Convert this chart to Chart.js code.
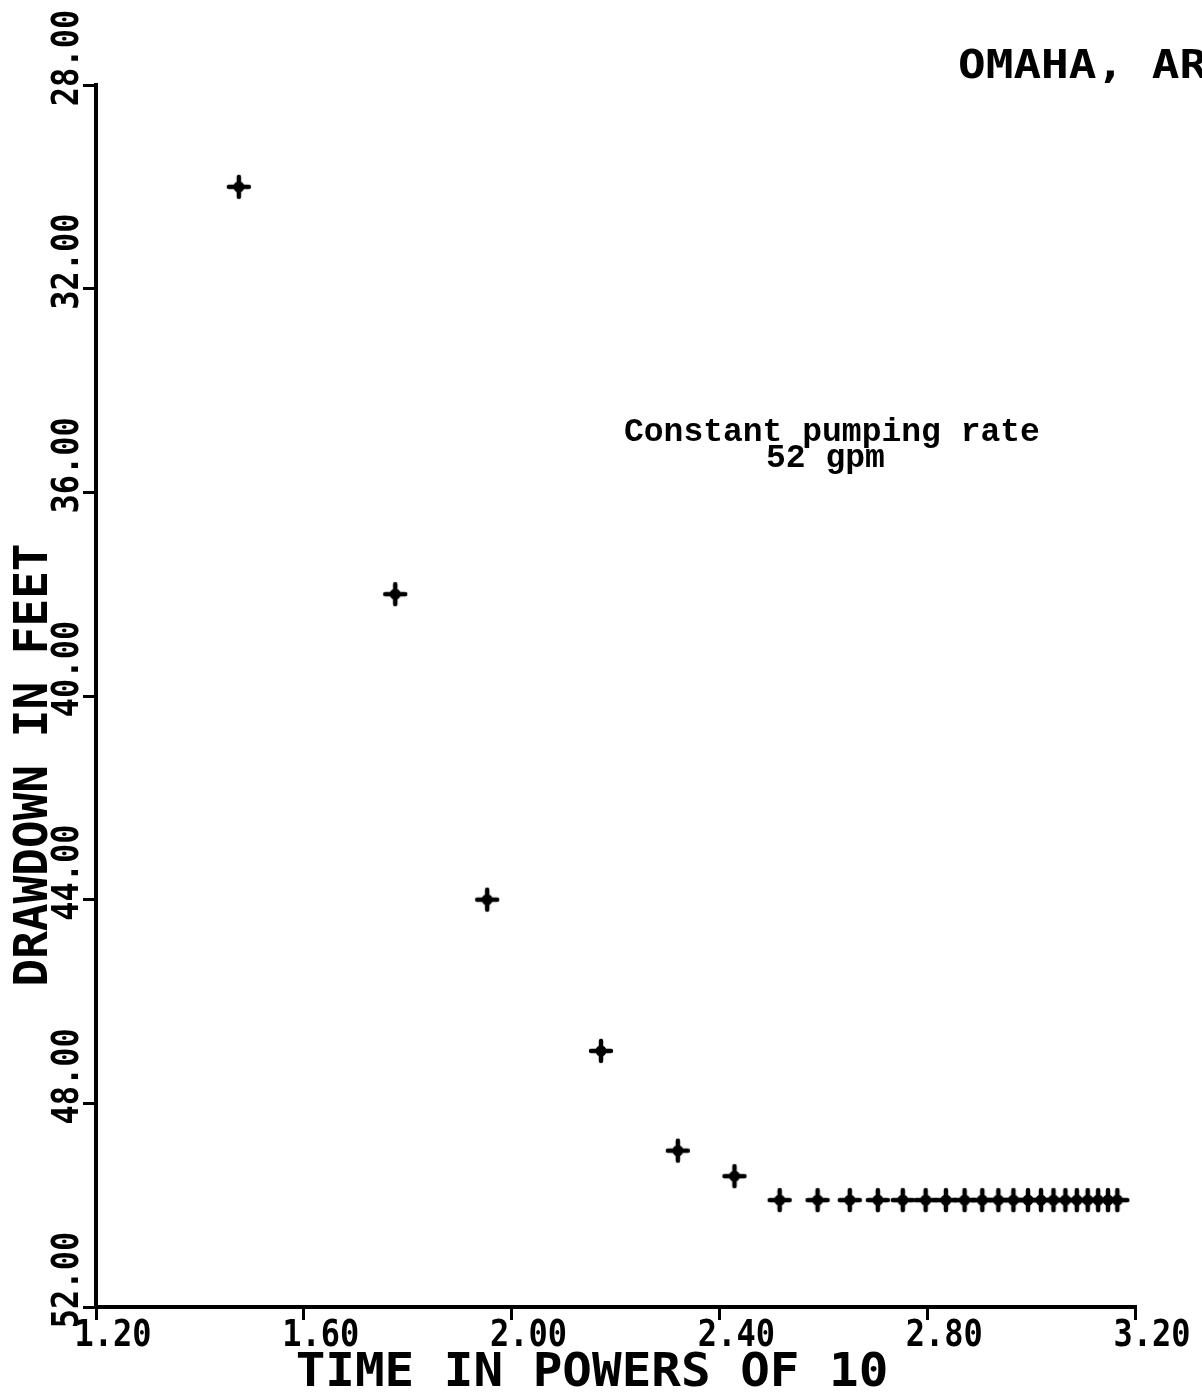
<!DOCTYPE html>
<html>
<head>
<meta charset="utf-8">
<script src="https://cdn.jsdelivr.net/npm/chart.js@4.4.1/dist/chart.umd.min.js"></script>
<style>
  html, body { margin: 0; padding: 0; background: #fff; }
  #chart { display: block; }
</style>
</head>
<body>
<canvas id="chart" width="1202" height="1395"></canvas>
<script>
// log10 of time (minutes) and drawdown (feet)
const logTime = [1.475, 1.776, 1.953, 2.172, 2.320, 2.429,
  2.516, 2.589, 2.651, 2.705, 2.753, 2.797, 2.836, 2.872, 2.906, 2.937,
  2.966, 2.994, 3.019, 3.043, 3.066, 3.088, 3.109, 3.129, 3.148, 3.166];
const drawdown = [30.0, 38.0, 44.0, 46.97, 48.93, 49.43,
  49.9, 49.9, 49.9, 49.9, 49.9, 49.9, 49.9, 49.9, 49.9, 49.9,
  49.9, 49.9, 49.9, 49.9, 49.9, 49.9, 49.9, 49.9, 49.9, 49.9];
const xTicks = [1.2, 1.6, 2.0, 2.4, 2.8, 3.2];
const yTicks = [28, 32, 36, 40, 44, 48, 52];

const PLOT_FONT = '"DejaVu Sans Mono", monospace';
const TYPE_FONT = '"Liberation Mono", monospace';

// thick plotter-style "+" marker
function plusMark() {
  const s = 28, c = s / 2;
  const cv = document.createElement("canvas");
  cv.width = s; cv.height = s;
  const g = cv.getContext("2d");
  g.strokeStyle = "#000";
  g.fillStyle = "#000";
  g.lineWidth = 4.5;
  g.lineCap = "round";
  g.beginPath();
  g.moveTo(c - 10, c); g.lineTo(c + 10, c);
  g.moveTo(c, c - 10); g.lineTo(c, c + 10);
  g.stroke();
  g.beginPath();
  g.arc(c, c, 5.5, 0, Math.PI * 2);
  g.fill();
  return cv;
}

function drawText(ctx, str, x, y, o) {
  ctx.save();
  ctx.translate(x, y);
  if (o.rot) ctx.rotate(o.rot);
  ctx.scale(o.sx || 1, o.sy || 1);
  ctx.font = (o.weight || "normal") + " " + o.size + "px " + (o.family || PLOT_FONT);
  ctx.fillStyle = "#000";
  ctx.textAlign = o.align || "center";
  ctx.textBaseline = "alphabetic";
  ctx.fillText(str, 0, 0);
  ctx.restore();
}

const labelsPlugin = {
  id: "plotLabels",
  afterDraw(chart) {
    const { ctx } = chart;
    const x = chart.scales.x;
    const y = chart.scales.y;

    xTicks.forEach((v) => {
      drawText(ctx, v.toFixed(2), x.getPixelForValue(v) + 17, 1346,
        { size: 32, sy: 1.15, weight: "bold" });
    });
    yTicks.forEach((v) => {
      drawText(ctx, v.toFixed(2), 78, y.getPixelForValue(v) - 27,
        { size: 32, sy: 1.15, weight: "bold", rot: -Math.PI / 2 });
    });

    drawText(ctx, "TIME IN POWERS OF 10", 592, 1386, { size: 46, sx: 1.07, weight: "bold" });
    drawText(ctx, "DRAWDOWN IN FEET", 47, 765, { size: 46, weight: "bold", rot: -Math.PI / 2 });
    drawText(ctx, "OMAHA, AR", 958, 78, { size: 46, sy: 0.84, weight: "bold", align: "left" });

    drawText(ctx, "Constant pumping rate", 624, 441,
      { size: 33, family: TYPE_FONT, weight: "bold", align: "left" });
    drawText(ctx, "52 gpm", 766, 467,
      { size: 33, family: TYPE_FONT, weight: "bold", align: "left" });
  },
};

const axisGrid = { drawOnChartArea: false, drawTicks: true, tickLength: 13, color: "#000", lineWidth: 3 };
const axisBorder = { display: true, color: "#000", width: 4 };

new Chart(document.getElementById("chart").getContext("2d"), {
  type: "scatter",
  data: {
    datasets: [{
      data: logTime.map((t, i) => ({ x: t, y: drawdown[i] })),
      pointStyle: plusMark(),
      pointRadius: 10,
      showLine: false,
    }],
  },
  options: {
    responsive: false,
    animation: false,
    devicePixelRatio: 1,
    layout: { padding: { left: 0, top: 85, right: 67, bottom: 0 } },
    plugins: { legend: { display: false }, tooltip: { enabled: false } },
    scales: {
      x: {
        type: "linear",
        min: 1.2,
        max: 3.2,
        afterBuildTicks: (s) => { s.ticks = xTicks.map((v) => ({ value: v })); },
        afterFit: (s) => { s.height = 88; },
        ticks: { display: false },
        grid: axisGrid,
        border: axisBorder,
      },
      y: {
        type: "linear",
        reverse: true,
        min: 28,
        max: 52,
        afterBuildTicks: (s) => { s.ticks = yTicks.map((v) => ({ value: v })); },
        afterFit: (s) => { s.width = 96; },
        ticks: { display: false },
        grid: axisGrid,
        border: axisBorder,
      },
    },
  },
  plugins: [labelsPlugin],
});
</script>
</body>
</html>
